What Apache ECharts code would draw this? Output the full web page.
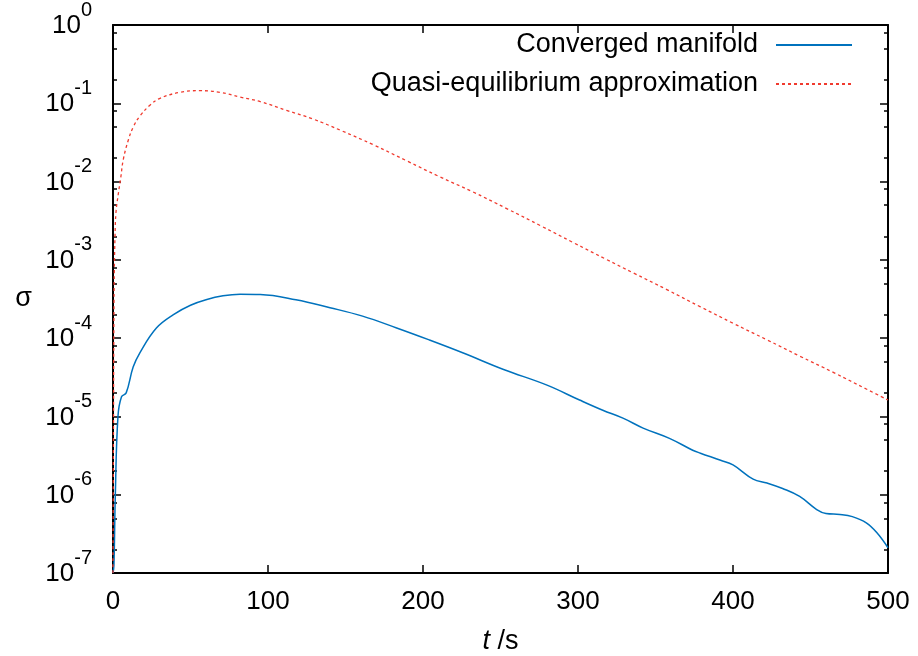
<!DOCTYPE html>
<html>
<head>
<meta charset="utf-8">
<script src="https://cdn.jsdelivr.net/npm/echarts@6/dist/echarts.min.js"></script>
<style>
  html, body { margin: 0; padding: 0; background: #fff; }
  #chart { width: 918px; height: 656px; }
</style>
</head>
<body>
<div id="chart"></div>
<script>
// Converged manifold (blue, solid)
const tManifold = [0, 0.6, 1.5, 3.2, 5.5, 8.5, 13, 17.5, 28, 39, 50, 60, 71, 82, 95,
  118, 140, 161, 183, 204, 226, 252, 280, 301, 316, 329, 342, 359, 374, 379, 392,
  400, 413, 422, 432, 443, 454, 460, 469, 477, 486, 493, 500];
const sigmaManifold = [1.0e-7, 1.26e-7, 1.0e-6, 1.0e-5, 1.78e-5, 2.0e-5, 4.27e-5, 6.6e-5,
  1.35e-4, 2.0e-4, 2.63e-4, 3.09e-4, 3.47e-4, 3.63e-4, 3.6e-4,
  3.09e-4, 2.45e-4, 1.91e-4, 1.35e-4, 9.5e-5, 6.46e-5, 3.98e-5, 2.51e-5, 1.62e-5,
  1.2e-5, 9.5e-6, 7.1e-6, 5.25e-6, 3.7e-6, 3.39e-6, 2.75e-6,
  2.4e-6, 1.58e-6, 1.41e-6, 1.2e-6, 9.5e-7, 6.46e-7, 5.75e-7, 5.6e-7, 5.25e-7,
  4.37e-7, 3.24e-7, 2.1e-7];

// Quasi-equilibrium approximation (red, dotted)
const tQuasi = [0, 0.4, 0.65, 0.85, 1.3, 1.9, 3.4, 5.0, 6.6, 9.9, 13.1, 17.4, 24, 30,
  43, 56, 69, 82, 95, 112, 129, 147, 168, 190, 210, 232, 254, 276, 297, 318, 336,
  357, 379, 400, 422, 443, 465, 486, 500];
const sigmaQuasi = [1.0e-7, 2.5e-5, 2.8e-4, 7.4e-4, 2.0e-3, 4.0e-3, 6.9e-3, 1.12e-2,
  1.9e-2, 3.4e-2, 5.0e-2, 6.9e-2, 9.5e-2, 0.115,
  0.138, 0.145, 0.138, 0.12, 0.105, 8.1e-2, 6.3e-2, 4.5e-2, 2.95e-2, 1.82e-2,
  1.17e-2, 7.41e-3, 4.52e-3, 2.72e-3, 1.66e-3, 1.02e-3, 6.76e-4,
  4.2e-4, 2.51e-4, 1.55e-4, 9.5e-5, 5.9e-5, 3.63e-5, 2.24e-5, 1.62e-5];

const seriesNames = ['Converged manifold', 'Quasi-equilibrium approximation'];
const yDecades = [-7, -6, -5, -4, -3, -2, -1, 0];
const minorMultipliers = [2, 5, 8];

// Nebenstriche (2, 5, 8 je Dekade) in log10-Koordinaten
const minorTicks = [];
yDecades.forEach(d => {
  minorMultipliers.forEach(m => {
    const v = d + Math.log10(m);
    if (v <= 0) minorTicks.push(v);
  });
});

const FONT = '"Liberation Sans", Arial, Helvetica, sans-serif';
const chart = echarts.init(document.getElementById('chart'));

const tickStyle = { color: '#000', width: 1.5 };
const frameLine = { show: true, onZero: false, lineStyle: { color: '#000', width: 2 } };

function minorAxis(pos) {
  return {
    type: 'value', position: pos, min: -7, max: 0,
    axisLine: { show: false, onZero: false },
    axisTick: { show: true, inside: true, length: 4, lineStyle: tickStyle, customValues: minorTicks },
    axisLabel: { show: false },
    splitLine: { show: false }
  };
}

chart.setOption({
  animation: false,
  backgroundColor: '#fff',
  textStyle: { fontFamily: FONT },
  grid: { left: 113, right: 30, top: 25, bottom: 83, outerBoundsMode: 'none' },
  legend: {
    orient: 'vertical',
    right: 65,
    top: 30,
    padding: 0,
    align: 'right',
    itemWidth: 76,
    itemHeight: 14,
    itemGap: 9,
    itemStyle: { opacity: 0 },
    data: seriesNames,
    textStyle: { fontFamily: FONT, fontSize: 27, color: '#000', lineHeight: 30, padding: [0, 13, 0, 0] }
  },
  xAxis: [
    {
      type: 'value', position: 'bottom', min: 0, max: 500, interval: 100,
      name: '{i|t} /s', nameLocation: 'middle', nameGap: 55,
      nameTextStyle: {
        fontFamily: FONT, fontSize: 27, color: '#000',
        rich: { i: { fontFamily: FONT, fontSize: 27, fontStyle: 'italic', color: '#000' } }
      },
      axisLine: frameLine,
      axisTick: { show: true, inside: true, length: 8, lineStyle: tickStyle },
      axisLabel: { fontFamily: FONT, fontSize: 26, color: '#000', margin: 16 },
      splitLine: { show: false }
    },
    {
      type: 'value', position: 'top', min: 0, max: 500, interval: 100,
      axisLine: frameLine,
      axisTick: { show: true, inside: true, length: 8, lineStyle: tickStyle },
      axisLabel: { show: false },
      splitLine: { show: false }
    }
  ],
  yAxis: [
    {
      type: 'log', logBase: 10, position: 'left', min: 1e-7, max: 1,
      name: 'σ', nameLocation: 'middle', nameRotate: 0, nameGap: 81,
      nameTextStyle: { fontFamily: FONT, fontSize: 27, color: '#000' },
      axisLine: frameLine,
      axisTick: { show: true, inside: true, length: 8, lineStyle: tickStyle },
      axisLabel: {
        margin: 21,
        padding: [20, 0, 0, 0],
        formatter: v => '{b|10}{s|' + Math.round(Math.log10(v)) + '}',
        rich: {
          b: { fontFamily: FONT, fontSize: 26, color: '#000', lineHeight: 26, padding: [0, 0, 9, 0], verticalAlign: 'bottom' },
          s: { fontFamily: FONT, fontSize: 20, color: '#000', lineHeight: 20, padding: [0, 0, 28, 0], verticalAlign: 'bottom' }
        }
      },
      splitLine: { show: false }
    },
    {
      type: 'log', logBase: 10, position: 'right', min: 1e-7, max: 1,
      axisLine: frameLine,
      axisTick: { show: true, inside: true, length: 8, lineStyle: tickStyle },
      axisLabel: { show: false },
      splitLine: { show: false }
    },
    minorAxis('left'),
    minorAxis('right')
  ],
  series: [
    {
      name: seriesNames[0],
      type: 'line',
      xAxisIndex: 0, yAxisIndex: 0,
      data: tManifold.map((t, i) => [t, sigmaManifold[i]]),
      showSymbol: false, symbol: 'none',
      smooth: 0.4,
      lineStyle: { color: '#0072bd', width: 1.5 },
      itemStyle: { color: '#0072bd' }
    },
    {
      name: seriesNames[1],
      type: 'line',
      xAxisIndex: 0, yAxisIndex: 0,
      data: tQuasi.map((t, i) => [t, sigmaQuasi[i]]),
      showSymbol: false, symbol: 'none',
      smooth: 0.4,
      lineStyle: { color: '#f03a2e', width: 1.3, type: [3, 3] },
      itemStyle: { color: '#f03a2e' }
    }
  ]
});

window.addEventListener('resize', () => chart.resize());
</script>
</body>
</html>
